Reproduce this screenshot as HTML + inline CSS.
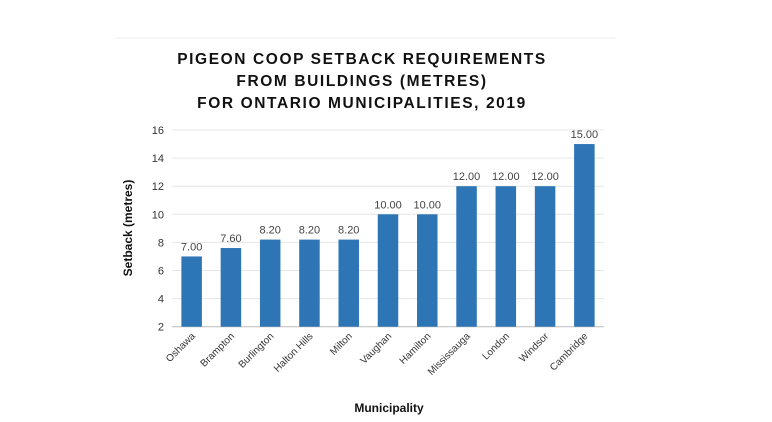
<!DOCTYPE html>
<html><head><meta charset="utf-8"><style>
body{margin:0;background:#fff;}
svg{display:block;font-family:"Liberation Sans",sans-serif;}
</style></head><body>
<svg id="c" width="772" height="422">
<line x1="115" y1="38" x2="615" y2="38" stroke="#eee"/>
<g font-weight="bold" font-size="15.5" letter-spacing="1.6" text-anchor="middle" fill="#111">
<text x="362" y="64">PIGEON COOP SETBACK REQUIREMENTS</text>
<text x="362" y="86">FROM BUILDINGS (METRES)</text>
<text x="362" y="108">FOR ONTARIO MUNICIPALITIES, 2019</text>
</g>
<text transform="translate(132,228) rotate(-90)" text-anchor="middle" font-size="12" font-weight="bold" fill="#111">Setback (metres)</text>
<text x="389" y="412" text-anchor="middle" font-size="12" font-weight="bold" fill="#111">Municipality</text>
<g id="grid"></g><g id="bars"></g>
</svg>
<script>
const categories=["Oshawa","Brampton","Burlington","Halton Hills","Milton","Vaughan","Hamilton","Mississauga","London","Windsor","Cambridge"];
const values=[7.00,7.60,8.20,8.20,8.20,10.00,10.00,12.00,12.00,12.00,15.00];
const yTicks=[2,4,6,8,10,12,14,16];
const NS="http://www.w3.org/2000/svg";
const L=172,R=604,yMin=2,yMax=16,T=130,B=326.7;
const y=v=>B-(v-yMin)/(yMax-yMin)*(B-T);
const step=(R-L)/categories.length;
const x=i=>L+i*step;
const g=document.getElementById('grid'),b=document.getElementById('bars');
function mk(t,a,p){const e=document.createElementNS(NS,t);for(const k in a)e.setAttribute(k,a[k]);p.appendChild(e);return e;}
yTicks.forEach(t=>{
 const ln=mk('line',{x1:L,x2:R,y1:y(t),y2:y(t),stroke:t===yMin?'#bbb':'#e6e6e6','stroke-width':1},g);
 
 
 const tx=mk('text',{x:L-8,y:y(t)+4,'text-anchor':'end','font-size':11,fill:'#333'},g);
 tx.textContent=t;
 
 
});
const bw=20.5;
values.forEach((v,i)=>{
 const cx=x(i)+step/2;
 const r=mk('rect',{x:cx-bw/2,y:y(v),width:bw,height:y(yMin)-y(v),fill:'#2e75b6'},b);
 
 
 const t=mk('text',{x:cx,y:y(v)-6,'text-anchor':'middle','font-size':11,fill:'#444'},b);
 t.textContent=v.toFixed(2);
 
 
 const c=mk('text',{transform:`translate(${cx+4},${y(yMin)+10}) rotate(-45)`,'text-anchor':'end','font-size':10,fill:'#333'},b);
 c.textContent=categories[i];
 
 
});
</script>
</body></html>
